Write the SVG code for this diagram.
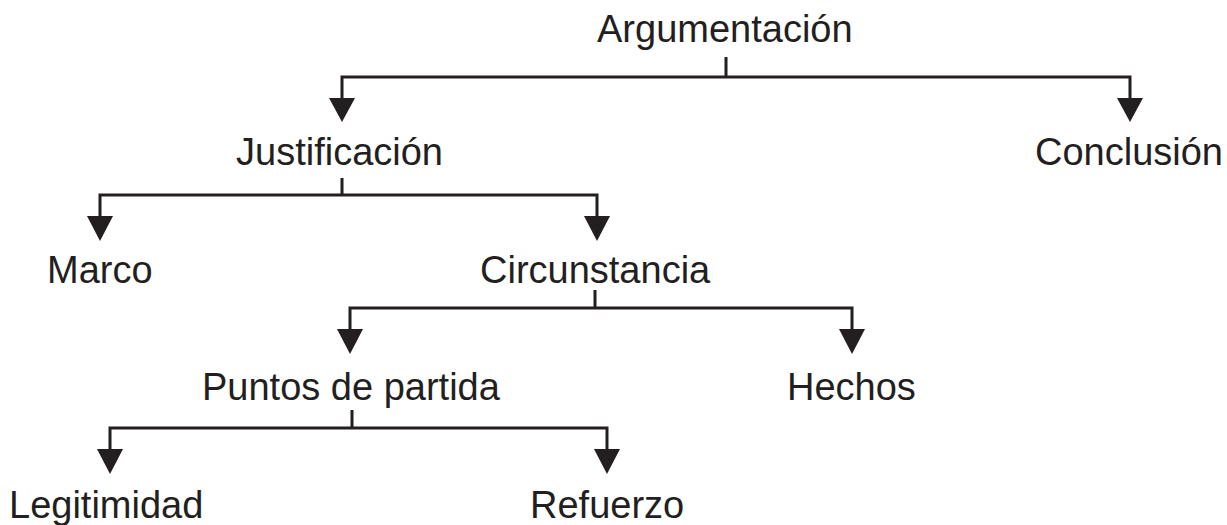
<svg xmlns="http://www.w3.org/2000/svg" width="1227" height="525" viewBox="0 0 1227 525">
<style>
text{font-family:"Liberation Sans",Arial,Helvetica,sans-serif;font-size:38px;fill:#231f20}
.ln{fill:none;stroke:#231f20;stroke-width:3}
.ah{fill:#231f20}
</style>
<rect width="1227" height="525" fill="#fff"/>
<g id="connectors">
<path class="ln" d="M726 57V77M342 100V77H1130V100"/>
<polygon class="ah" points="329,98 355,98 342,122"/>
<polygon class="ah" points="1117,98 1143,98 1130,122"/>
<path class="ln" d="M342 178V195M100 218V195H597V218"/>
<polygon class="ah" points="87,216 113,216 100,241"/>
<polygon class="ah" points="584,216 610,216 597,241"/>
<path class="ln" d="M595 290V308M350 331V308H852V331"/>
<polygon class="ah" points="337,329 363,329 350,354"/>
<polygon class="ah" points="839,329 865,329 852,354"/>
<path class="ln" d="M352 410V428M110 451V428H607V451"/>
<polygon class="ah" points="97,449 123,449 110,474"/>
<polygon class="ah" points="594,449 620,449 607,474"/>
</g>
<g id="n-argumentacion"><text x="597" y="42">Argumentación</text></g>
<g id="n-justificacion"><text x="236" y="165">Justificación</text></g>
<g id="n-conclusion"><text x="1035" y="165">Conclusión</text></g>
<g id="n-marco"><text x="47" y="283">Marco</text></g>
<g id="n-circunstancia"><text x="480" y="283">Circunstancia</text></g>
<g id="n-puntos"><text x="202" y="400">Puntos de partida</text></g>
<g id="n-hechos"><text x="787" y="400">Hechos</text></g>
<g id="n-legitimidad"><text x="9" y="518">Legitimidad</text></g>
<g id="n-refuerzo"><text x="530" y="518">Refuerzo</text></g>
</svg>
